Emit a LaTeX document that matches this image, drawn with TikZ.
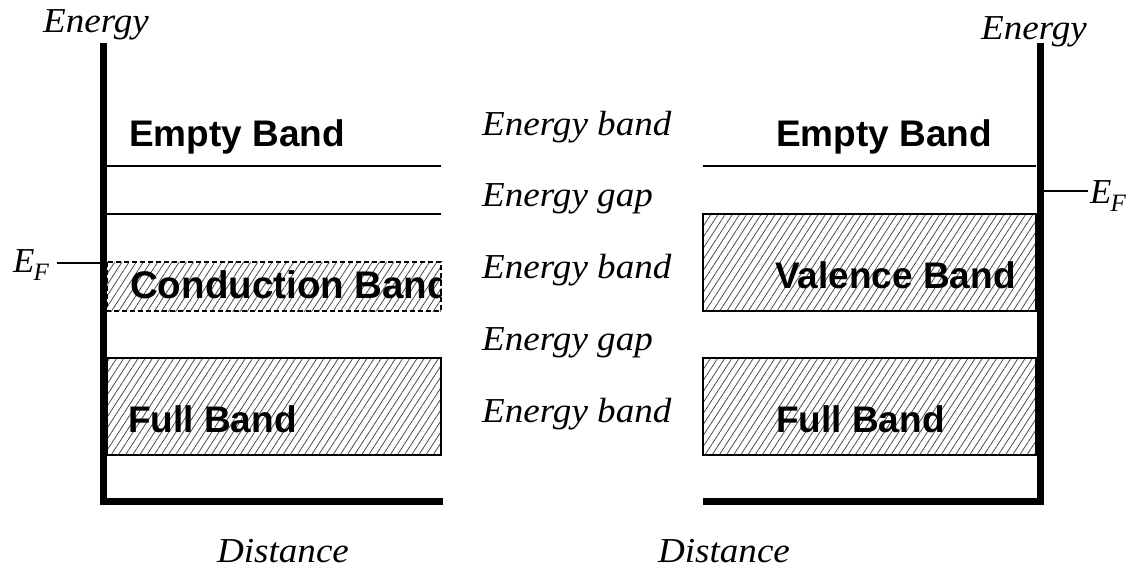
\documentclass[tikz,border=0pt]{standalone}
\usepackage{fontspec}
\setmainfont{Liberation Serif}
\setsansfont{Liberation Sans}
\newfontfamily\itwide[FakeStretch=1.06]{Liberation Serif}
\usetikzlibrary{patterns.meta}
\begin{document}
\begin{tikzpicture}[x=1pt,y=-1pt,
  axis/.style={line width=7pt},
  thinline/.style={line width=2pt},
  hatch/.style={pattern={Lines[angle=57,distance=6pt,line width=0.8pt]},pattern color=black!70},
  bandlbl/.style={font=\sffamily\bfseries\fontsize{37}{44}\selectfont, anchor=base west, inner sep=0pt},
  ital/.style={font=\itwide\itshape\fontsize{35}{42}\selectfont, inner sep=0pt, anchor=base},
  itall/.style={font=\itwide\itshape\fontsize{35}{42}\selectfont, inner sep=0pt, anchor=base west},
  eflbl/.style={font=\itshape\fontsize{35}{42}\selectfont, inner sep=0pt, anchor=base west}]
\useasboundingbox (0,0) rectangle (1136,571);

% ---- left diagram ----
\coordinate (LT) at (103.5,43);
\coordinate (LC) at (103.5,501);
\coordinate (LE) at (443,501);
\draw[axis] (LT) -- (LC) -- (LE);
\draw[thinline] (107,166) -- (441,166);
\draw[thinline] (107,214) -- (441,214);
\fill[hatch] (107,262) rectangle (441,311);
\begin{scope}
  \clip (107,262) rectangle (441,311);
  \node[bandlbl, font=\sffamily\bfseries\fontsize{38.5}{44}\selectfont] (cond) at (130,298) {Conduction Band};
\end{scope}
\draw[thinline, dash pattern=on 5pt off 3pt] (107,262) rectangle (441,311);
\draw[thinline, hatch] (107,358) rectangle (441,455);
\node[bandlbl] (emptyL) at (129,146) {Empty Band};
\node[bandlbl] (fullL) at (128,432) {Full Band};

% ---- right diagram ----
\coordinate (RT) at (1040,43);
\coordinate (RC) at (1040,501);
\coordinate (RE) at (703,501);
\draw[axis] (RT) -- (RC) -- (RE);
\draw[thinline] (703,166) -- (1036,166);
\draw[thinline, hatch] (703,214) rectangle (1036,311);
\draw[thinline, hatch] (703,358) rectangle (1036,455);
\node[bandlbl] (emptyR) at (776,146) {Empty Band};
\node[bandlbl] (val) at (775,288) {Valence Band};
\node[bandlbl] (fullR) at (776,432) {Full Band};

% ---- axis labels ----
\node[ital] (enL) at (96,32) {Energy};
\node[ital] (enR) at (1034,39) {Energy};
\node[ital] (distL) at (283,562) {Distance};
\node[ital] (distR) at (724,562) {Distance};

% ---- centre labels ----
\node[itall] (c1) at (482,135) {Energy band};
\node[itall] (c2) at (482,206) {Energy gap};
\node[itall] (c3) at (482,278) {Energy band};
\node[itall] (c4) at (482,350) {Energy gap};
\node[itall] (c5) at (482,422) {Energy band};

% ---- Fermi levels ----
\node[eflbl] (efL) at (13,272) {E\kern-1pt\raisebox{-8pt}{\fontsize{25}{25}\selectfont F}};
\coordinate (efLa) at (57,263);
\coordinate (efLb) at (100,263);
\draw[thinline] (efLa) -- (efLb);
\node[eflbl] (efR) at (1090,203) {E\kern-1pt\raisebox{-8pt}{\fontsize{25}{25}\selectfont F}};
\coordinate (efRa) at (1043,191);
\coordinate (efRb) at (1088,191);
\draw[thinline] (efRa) -- (efRb);
\end{tikzpicture}
\end{document}
